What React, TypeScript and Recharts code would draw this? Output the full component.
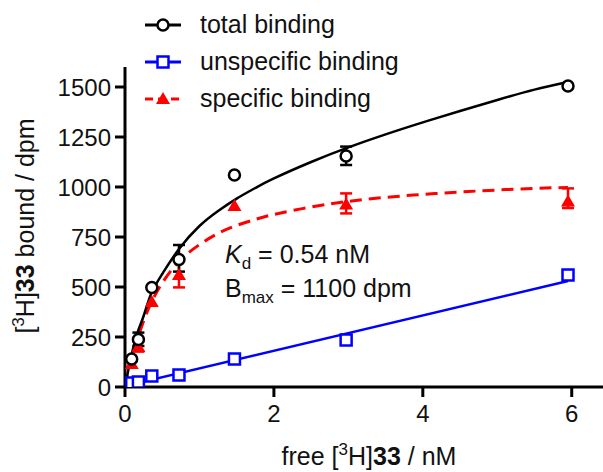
import React from 'react';
import { ComposedChart, Line, Scatter, XAxis, YAxis, ErrorBar, Legend } from 'recharts';

const FONT = '"Liberation Sans", Arial, Helvetica, sans-serif';

const xTicks = [0, 2, 4, 6];
const yTicks = [0, 250, 500, 750, 1000, 1250, 1500];

// measured points
const concentrations = [0.09, 0.18, 0.36, 0.725, 1.47, 2.97, 5.95];
const totalBound = [140, 238, 497, 638, 1060, 1155, 1505];
const totalErr: (number[] | null)[] = [null, [33, 34], null, [61, 72], null, [45, 47], null];
const specificBound = [115, 200, 425, 560, 905, 912, 927];
const specificErr: (number[] | null)[] = [null, [23, 27], null, [62, 75], null, [44, 56], [32, 66]];
const unspecificBound = [20, 25, 55, 60, 140, 235, 560];

// fitted curves
const fitX = [0, 0.05, 0.1, 0.18, 0.25, 0.35, 0.5, 0.725, 1.0, 1.25, 1.5, 1.75, 2.0, 2.5, 3.0, 3.5, 4.0, 4.5, 5.0, 5.5, 5.95];
const totalFit = [0, 95, 180, 285, 355, 465, 565, 690, 805, 880, 942, 995, 1043, 1125, 1198, 1263, 1323, 1380, 1435, 1487, 1525];
const specificFit = [0, 90, 165, 255, 330, 420, 520, 628, 712, 768, 808, 838, 863, 900, 928, 948, 963, 975, 985, 993, 998];
const unspecificFitX = [0, 5.95];
const unspecificFit = [5, 530];

const seriesNames = ['total binding', 'unspecific binding', 'specific binding'];
const seriesColors = ['#000000', '#0000FF', '#FF0000'];

const totalPoints = concentrations.map((x, i) => ({ x, y: totalBound[i], err: totalErr[i] }));
const specificPoints = concentrations.map((x, i) => ({ x, y: specificBound[i], err: specificErr[i] }));
const unspecificPoints = concentrations.map((x, i) => ({ x, y: unspecificBound[i] }));
const totalCurve = fitX.map((x, i) => ({ x, y: totalFit[i] }));
const specificCurve = fitX.map((x, i) => ({ x, y: specificFit[i] }));
const unspecificCurve = unspecificFitX.map((x, i) => ({ x, y: unspecificFit[i] }));

const CircleShape = (p: any) => (
  <circle cx={p.cx} cy={p.cy} r={5.5} fill="#fff" stroke={seriesColors[0]} strokeWidth={2.5} />
);
const SquareShape = (p: any) => (
  <rect x={p.cx - 5.5} y={p.cy - 5.5} width={11} height={11} fill="#fff" stroke={seriesColors[1]} strokeWidth={2.5} />
);
const TriangleShape = (p: any) => (
  <polygon
    points={`${p.cx},${p.cy - 7} ${p.cx + 7},${p.cy + 5} ${p.cx - 7},${p.cy + 5}`}
    fill={seriesColors[2]}
  />
);

const LegendIcon = ({ idx }: { idx: number }) => {
  const c = seriesColors[idx];
  return (
    <svg width={36} height={20} style={{ display: 'block' }}>
      <line x1={0} y1={10} x2={36} y2={10} stroke={c} strokeWidth={3} strokeDasharray={idx === 2 ? '8 5' : undefined} />
      {idx === 0 && <circle cx={18} cy={10} r={5.5} fill="#fff" stroke={c} strokeWidth={2.5} />}
      {idx === 1 && <rect x={12.5} y={4.5} width={11} height={11} fill="#fff" stroke={c} strokeWidth={2.5} />}
      {idx === 2 && <polygon points="18,3 25,15 11,15" fill={c} />}
    </svg>
  );
};

const renderLegend = () => (
  <div style={{ width: 'max-content', fontFamily: FONT }}>
    {seriesNames.map((name, i) => (
      <div key={name} style={{ display: 'flex', alignItems: 'center', height: 37, whiteSpace: 'nowrap' }}>
        <LegendIcon idx={i} />
        <span style={{ marginLeft: 19, fontSize: 25, color: '#111' }}>{name}</span>
      </div>
    ))}
  </div>
);

const axisStroke = { stroke: '#000', strokeWidth: 3 };
const tickStyle = { fill: '#111', fontSize: 24, fontFamily: FONT };

export default function App() {
  return (
    <div style={{ position: 'absolute', left: 0, top: 0, width: 603, height: 472, background: '#fff' }}>
      <ComposedChart
        width={603}
        height={472}
        margin={{ top: 67, right: 0, bottom: 0, left: 0 }}
        style={{ fontFamily: FONT }}
      >
        <XAxis
          type="number"
          dataKey="x"
          domain={[0, 6.42]}
          ticks={xTicks}
          allowDataOverflow
          height={85}
          tickSize={10}
          tickMargin={8}
          axisLine={axisStroke}
          tickLine={axisStroke}
          tick={tickStyle}
        />
        <YAxis
          type="number"
          dataKey="y"
          domain={[0, 1600]}
          ticks={yTicks}
          allowDataOverflow
          width={125}
          tickSize={10}
          tickMargin={4}
          axisLine={axisStroke}
          tickLine={axisStroke}
          tick={tickStyle}
        />
        <Legend
          content={renderLegend}
          wrapperStyle={{ position: 'absolute', top: 6, left: 145, width: 0, height: 0, overflow: 'visible' }}
        />
        <Line data={unspecificCurve} dataKey="y" type="linear" stroke={seriesColors[1]} strokeWidth={2.5} dot={false} activeDot={false} isAnimationActive={false} legendType="none" />
        <Line data={specificCurve} dataKey="y" type="natural" stroke={seriesColors[2]} strokeWidth={3} strokeDasharray="12 7" dot={false} activeDot={false} isAnimationActive={false} legendType="none" />
        <Line data={totalCurve} dataKey="y" type="natural" stroke={seriesColors[0]} strokeWidth={2.5} dot={false} activeDot={false} isAnimationActive={false} legendType="none" />
        <Scatter name={seriesNames[1]} data={unspecificPoints} dataKey="y" shape={SquareShape} isAnimationActive={false} />
        <Scatter name={seriesNames[2]} data={specificPoints} dataKey="y" shape={TriangleShape} isAnimationActive={false}>
          <ErrorBar dataKey="err" direction="y" width={6} stroke={seriesColors[2]} strokeWidth={2.5} />
        </Scatter>
        <Scatter name={seriesNames[0]} data={totalPoints} dataKey="y" shape={CircleShape} isAnimationActive={false}>
          <ErrorBar dataKey="err" direction="y" width={6} stroke={seriesColors[0]} strokeWidth={2.5} />
        </Scatter>
        <text x={225} y={263} fontSize={25} fill="#111" fontFamily={FONT}>
          <tspan fontStyle="italic">K</tspan>
          <tspan fontSize={17} dy={6}>d</tspan>
          <tspan dy={-6}> = 0.54 nM</tspan>
        </text>
        <text x={225} y={297} fontSize={25} fill="#111" fontFamily={FONT}>
          <tspan>B</tspan>
          <tspan fontSize={17} dy={6}>max</tspan>
          <tspan dy={-6}> = 1100 dpm</tspan>
        </text>
        <text x={369} y={465} fontSize={25} fill="#111" fontFamily={FONT} textAnchor="middle">
          <tspan>free [</tspan>
          <tspan fontSize={17} dy={-10}>3</tspan>
          <tspan dy={10}>H]</tspan>
          <tspan fontWeight="bold">33</tspan>
          <tspan> / nM</tspan>
        </text>
        <text transform="translate(34,226) rotate(-90)" fontSize={25} fill="#111" fontFamily={FONT} textAnchor="middle">
          <tspan>[</tspan>
          <tspan fontSize={17} dy={-10}>3</tspan>
          <tspan dy={10}>H]</tspan>
          <tspan fontWeight="bold">33</tspan>
          <tspan> bound / dpm</tspan>
        </text>
      </ComposedChart>
    </div>
  );
}
